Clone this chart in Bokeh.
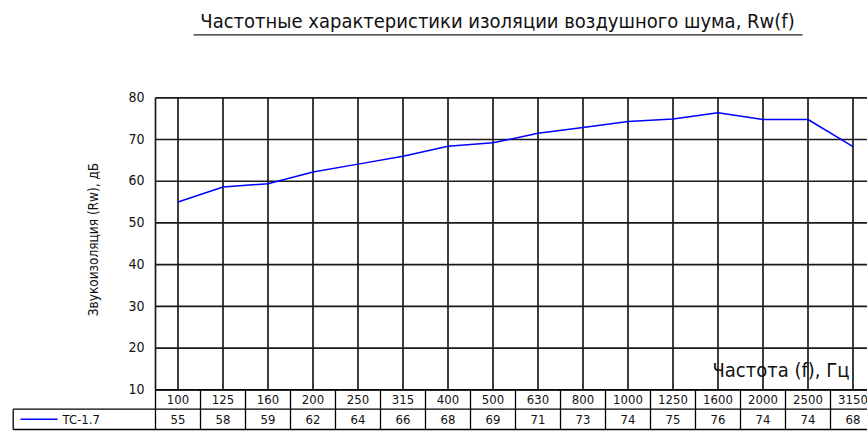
import math
from bokeh.plotting import figure
from bokeh.models import Range1d, ColumnDataSource
from bokeh.core.properties import value
from bokeh.embed import file_html
from bokeh.resources import INLINE

# ---------------- data ----------------
freqs = ["100", "125", "160", "200", "250", "315", "400", "500", "630",
         "800", "1000", "1250", "1600", "2000", "2500", "3150"]
rw_table = [55, 58, 59, 62, 64, 66, 68, 69, 71, 73, 74, 75, 76, 74, 74, 68]
rw_curve = [55.0, 58.6, 59.4, 62.2, 64.1, 66.0, 68.4, 69.2, 71.5, 72.9,
            74.3, 74.9, 76.4, 74.8, 74.8, 68.3]
y_ticks = [10, 20, 30, 40, 50, 60, 70, 80]
series_name = "TC-1.7"
title_text = "Частотные характеристики изоляции воздушного шума, Rw(f)"
y_label = "Звукоизоляция (Rw), дБ"
x_label = "Частота (f), Гц"

# ---------------- layout helpers (page px -> data units) ----------------
W, H = 867, 436
COL_PX = 45.0
X0_PX = 177.5          # page x of first column centre
Y80_PX, Y10_PX = 97.3, 389.3
PX_PER_DB = (Y10_PX - Y80_PX) / 70.0


def xd(px):
    return (px - X0_PX) / COL_PX


def yd(py):
    return 80 - (py - Y80_PX) / PX_PER_DB


FONT = value("DejaVu Sans Condensed, Liberation Sans Narrow, Roboto")
n = len(freqs)
idx = list(range(n))

p = figure(width=W, height=H, output_backend="svg", toolbar_location=None,
           x_range=Range1d(xd(0), xd(W)), y_range=Range1d(yd(H), yd(0)),
           min_border=0, min_border_left=0, min_border_right=0,
           min_border_top=0, min_border_bottom=0)
p.axis.visible = False
p.grid.visible = False
p.outline_line_color = None
p.background_fill_color = "white"
p.border_fill_color = "white"

x_left = -0.5
x_right = xd(W) + 1
row1_bot = yd(408.7)
row2_bot = yd(429.0)
legend_left = xd(12.7)

# horizontal grid lines
p.segment(x0=[x_left] * len(y_ticks), y0=y_ticks, x1=[x_right] * len(y_ticks), y1=y_ticks,
          line_color="#1a1a1a", line_width=1.7)
# vertical grid lines at column centres + left frame
p.segment(x0=idx + [x_left], y0=[10] * (n + 1), x1=idx + [x_left], y1=[80] * (n + 1),
          line_color="#1a1a1a", line_width=1.7)

# table
p.segment(x0=[x_left, legend_left, legend_left], y0=[10, row1_bot, row2_bot],
          x1=[x_right, x_right, x_right], y1=[10, row1_bot, row2_bot],
          line_color="black", line_width=1.3)
bx = [i - 0.5 for i in range(n + 1)]
p.segment(x0=bx, y0=[row2_bot] * len(bx), x1=bx, y1=[10] * len(bx),
          line_color="black", line_width=1.3)
p.segment(x0=[legend_left], y0=[row2_bot], x1=[legend_left], y1=[row1_bot],
          line_color="black", line_width=1.3)

# curve
src = ColumnDataSource(dict(x=idx, y=rw_curve))
p.line("x", "y", source=src, line_color="#0000ff", line_width=1.5)

# table texts
r1_mid = (10 + row1_bot) / 2
r2_mid = (row1_bot + row2_bot) / 2
p.text(x=idx, y=[r1_mid] * n, text=freqs, text_font=FONT, text_font_size="13px",
       text_align="center", text_baseline="middle", text_color="#111111")
p.text(x=idx, y=[r2_mid] * n, text=[str(v) for v in rw_table], text_font=FONT,
       text_font_size="13px", text_align="center", text_baseline="middle",
       text_color="#111111")

# legend in table
p.segment(x0=[xd(20)], y0=[r2_mid], x1=[xd(57)], y1=[r2_mid],
          line_color="#0000ff", line_width=1.5)
p.text(x=[xd(62)], y=[r2_mid], text=[series_name], text_font=FONT,
       text_font_size="13px", text_align="left", text_baseline="middle",
       text_color="#111111")

# y tick labels
p.text(x=[xd(144)] * len(y_ticks), y=[t + 0.2 for t in y_ticks],
       text=[str(t) for t in y_ticks], text_font=FONT, text_font_size="14px",
       text_align="right", text_baseline="middle", text_color="#111111")

# y axis label
p.text(x=[xd(92)], y=[yd(239)], text=[y_label], angle=math.pi / 2,
       text_font=FONT, text_font_size="13.5px", text_align="center",
       text_baseline="middle", text_color="#111111")

# x axis label
p.text(x=[xd(712)], y=[yd(369)], text=[x_label], text_font=FONT,
       text_font_size="20px", text_align="left", text_baseline="middle",
       text_color="#111111")

# title + underline
p.text(x=[xd(497)], y=[yd(20)], text=[title_text], text_font=FONT,
       text_font_size="20px", text_align="center", text_baseline="middle",
       text_color="#111111")
p.segment(x0=[xd(193)], y0=[yd(34.3)], x1=[xd(802)], y1=[yd(34.3)],
          line_color="#222222", line_width=1.3)

open("out.html", "w").write(file_html(p, INLINE))
